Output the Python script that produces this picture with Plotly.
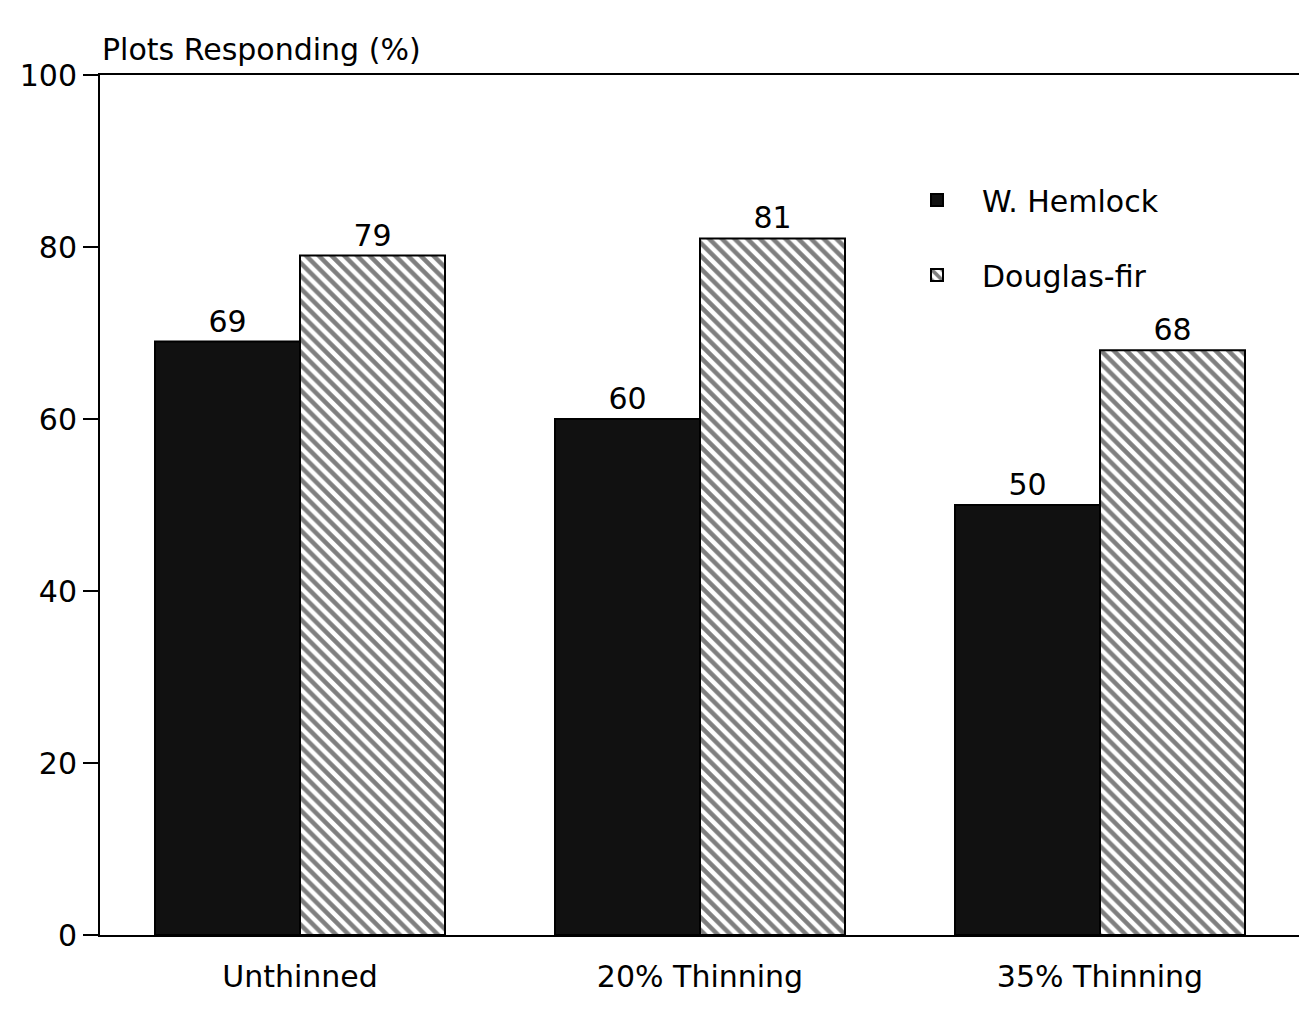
import plotly.graph_objects as go

categories = ["Unthinned", "20% Thinning", "35% Thinning"]
hemlock = [69, 60, 50]
douglas = [79, 81, 68]
y_ticks = [0, 20, 40, 60, 80, 100]

FONT = "DejaVu Sans"

fig = go.Figure()
fig.add_trace(go.Bar(
    name="W. Hemlock", x=categories, y=hemlock, legendgroup="a",
    text=[str(v) for v in hemlock], textposition="outside",
    marker=dict(color="#111111", line=dict(color="black", width=2)),
    textfont=dict(size=30, color="black", family=FONT),
    cliponaxis=False,
))
fig.add_trace(go.Bar(
    name="Douglas-fir", x=categories, y=douglas, legendgroup="b",
    text=[str(v) for v in douglas], textposition="outside",
    marker=dict(color="white", line=dict(color="black", width=2),
                pattern=dict(shape="\\", fgcolor="black", bgcolor="white",
                             size=9, solidity=0.5)),
    textfont=dict(size=30, color="black", family=FONT),
    cliponaxis=False,
))

fig.update_layout(
    width=1307, height=1022,
    paper_bgcolor="white", plot_bgcolor="white",
    margin=dict(l=92, r=15, t=67, b=95),
    barmode="group", bargap=0.275, bargroupgap=0,
    font=dict(family=FONT, size=30, color="black"),
    showlegend=True,
    legend=dict(x=0.66, y=0.885, xanchor="left", yanchor="top",
                bgcolor="rgba(0,0,0,0)", font=dict(size=30, family=FONT),
                itemwidth=80, tracegroupgap=33, traceorder="grouped"),
    annotations=[dict(text="Plots Responding (%)", x=0.0, y=1.0, xref="paper", yref="paper",
                      xanchor="left", yanchor="bottom", showarrow=False, yshift=6,
                      font=dict(size=30, family=FONT, color="black"))],
)
fig.update_yaxes(range=[0, 100], tickvals=y_ticks, ticks="outside", ticklen=15,
                 tickwidth=2, tickcolor="black", showline=True, linecolor="black",
                 linewidth=2, mirror=True, showgrid=False, zeroline=False,
                 tickfont=dict(size=30, family=FONT))
fig.update_xaxes(showline=True, linecolor="black", linewidth=2, mirror=True,
                 ticks="", showgrid=False, ticklabelstandoff=14,
                 tickfont=dict(size=30, family=FONT))

fig.write_html("out.html")
